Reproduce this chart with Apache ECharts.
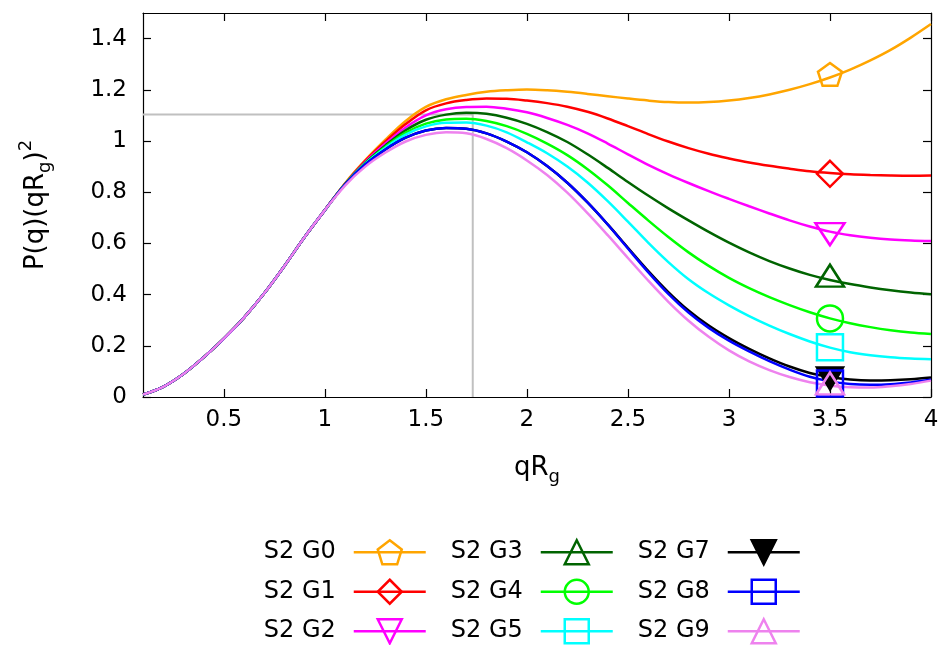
<!DOCTYPE html>
<html>
<head>
<meta charset="utf-8">
<script src="https://cdn.jsdelivr.net/npm/echarts@6/dist/echarts.min.js"></script>
<style>html,body{margin:0;padding:0;background:#fff}#c{width:947px;height:645px}</style>
</head>
<body>
<div id="c"></div>
<script>
// ---- data ----
const xValues = [0.1,0.2,0.3,0.4,0.5,0.6,0.7,0.8,0.9,1.0,1.1,1.2,1.3,1.4,1.5,1.6,1.7,1.8,1.9,2.0,
                 2.1,2.2,2.3,2.4,2.5,2.6,2.7,2.8,2.9,3.0,3.1,3.2,3.3,3.4,3.5,3.6,3.7,3.8,3.9,4.0];

const g0 = [0.01,0.04,0.09,0.155,0.228,0.31,0.405,0.512,0.625,0.73,0.835,0.925,1.005,1.078,1.133,1.163,1.18,1.192,1.198,1.201,
            1.198,1.192,1.184,1.175,1.166,1.158,1.152,1.15,1.152,1.158,1.168,1.182,1.2,1.222,1.248,1.279,1.315,1.356,1.404,1.457];
const g1 = [0.01,0.04,0.09,0.155,0.228,0.31,0.405,0.512,0.625,0.73,0.833,0.922,0.998,1.066,1.12,1.147,1.16,1.166,1.165,1.158,
            1.148,1.134,1.114,1.088,1.058,1.027,0.998,0.972,0.95,0.932,0.916,0.903,0.892,0.882,0.875,0.87,0.867,0.865,0.864,0.865];
const g2 = [0.01,0.04,0.09,0.155,0.228,0.31,0.405,0.512,0.625,0.73,0.832,0.918,0.99,1.053,1.1,1.124,1.133,1.134,1.126,1.112,
            1.09,1.063,1.03,0.99,0.948,0.907,0.87,0.836,0.804,0.774,0.745,0.717,0.69,0.666,0.646,0.632,0.622,0.615,0.611,0.609];
const g3 = [0.01,0.04,0.09,0.155,0.228,0.31,0.405,0.512,0.625,0.73,0.832,0.915,0.983,1.042,1.083,1.103,1.11,1.106,1.091,1.067,
            1.035,0.996,0.948,0.895,0.84,0.787,0.737,0.69,0.645,0.603,0.565,0.531,0.502,0.477,0.457,0.441,0.428,0.417,0.408,0.401];
const g4 = [0.01,0.04,0.09,0.155,0.228,0.31,0.405,0.512,0.625,0.73,0.831,0.913,0.978,1.033,1.068,1.084,1.087,1.078,1.058,1.028,
            0.99,0.945,0.89,0.827,0.758,0.69,0.625,0.565,0.512,0.465,0.425,0.39,0.359,0.331,0.307,0.288,0.273,0.261,0.252,0.246];
const g5 = [0.01,0.04,0.09,0.155,0.228,0.31,0.405,0.512,0.625,0.73,0.831,0.911,0.974,1.025,1.057,1.071,1.072,1.06,1.034,0.995,
            0.952,0.9,0.838,0.765,0.685,0.603,0.527,0.46,0.405,0.358,0.316,0.279,0.246,0.217,0.193,0.175,0.163,0.155,0.15,0.147];
const g7 = [0.01,0.04,0.09,0.155,0.228,0.31,0.405,0.512,0.625,0.73,0.83,0.908,0.967,1.013,1.041,1.051,1.048,1.03,0.998,0.956,
            0.902,0.837,0.76,0.674,0.583,0.493,0.41,0.338,0.279,0.23,0.188,0.151,0.119,0.094,0.078,0.068,0.064,0.065,0.069,0.076];
const g8 = [0.01,0.04,0.09,0.155,0.228,0.31,0.405,0.512,0.625,0.73,0.83,0.908,0.967,1.013,1.041,1.051,1.048,1.03,0.998,0.956,
            0.902,0.837,0.76,0.674,0.58,0.488,0.403,0.33,0.27,0.22,0.178,0.14,0.107,0.079,0.061,0.051,0.048,0.05,0.057,0.067];
const g9 = [0.01,0.04,0.09,0.155,0.228,0.31,0.405,0.512,0.625,0.73,0.826,0.9,0.955,0.998,1.024,1.034,1.03,1.008,0.972,0.924,
            0.867,0.798,0.718,0.632,0.543,0.455,0.372,0.298,0.235,0.182,0.139,0.105,0.078,0.058,0.045,0.038,0.037,0.042,0.051,0.064];

const seriesNames = ['S2 G0','S2 G1','S2 G2','S2 G3','S2 G4','S2 G5','S2 G7','S2 G8','S2 G9'];
const seriesValues = [g0,g1,g2,g3,g4,g5,g7,g8,g9];
const markerX = 3.5;
const markerY = [1.26,0.872,0.636,0.474,0.307,0.194,0.073,0.053,0.053];

const xTicks = [0.5,1,1.5,2,2.5,3,3.5,4];
const yTicks = [0,0.2,0.4,0.6,0.8,1,1.2,1.4];
const refX = 1.732;
const refY = 1.104;

// ---- styles ----
const colors = ['#ffa500','#ff0000','#ff00ff','#006400','#00ff00','#00ffff','#000000','#0000ff','#ee82ee'];
const pentagon = 'path://M0,-10L9.511,-3.09L5.878,8.09L-5.878,8.09L-9.511,-3.09Z';
const symbols = [pentagon,'diamond','triangle','triangle','circle','rect','triangle','rect','triangle'];
const rotates = [0,0,180,0,0,0,180,0,0];
const sizes = [[24,24],[26,26],[29,22],[28,22],[26,26],[26,26],[26,22],[26,26],[28,22]];
const filled = [false,false,false,false,false,false,true,false,false];
const FONT = 'DejaVu Sans';
const FS = 23;

const chart = echarts.init(document.getElementById('c'), null, {renderer: 'canvas'});

const series = [{
  type: 'line', name: 'ref', silent: true, symbol: 'none', z: 1,
  data: [[xValues[0], refY], [refX, refY], [refX, 0]],
  lineStyle: {color: '#c0c0c0', width: 2}
}];
seriesNames.forEach((n, i) => {
  const fill = filled[i] ? colors[i] : 'rgba(0,0,0,0)';
  series.push({
    type: 'line', name: n, smooth: 0.35, showSymbol: false,
    symbol: symbols[i], symbolRotate: rotates[i], symbolKeepAspect: true,
    data: xValues.map((x, k) => [x, seriesValues[i][k]]),
    lineStyle: {color: colors[i], width: 2.5},
    itemStyle: {color: fill, borderColor: colors[i], borderWidth: 2.5},
    z: 2 + i * 0.01
  });
  series.push({
    type: 'scatter', name: n + ' marker', silent: true,
    symbol: symbols[i], symbolRotate: rotates[i], symbolSize: sizes[i], symbolKeepAspect: true,
    data: [[markerX, markerY[i]]],
    itemStyle: {color: fill, borderColor: colors[i], borderWidth: 2.5, opacity: 1},
    z: 3 + i * 0.01
  });
});

function legendCol(names, right) {
  return {
    show: true, orient: 'vertical', align: 'right', right: right, top: 539, padding: 0,
    itemWidth: 72, itemHeight: 30, itemGap: 13, selectedMode: false,
    textStyle: {fontFamily: FONT, fontSize: 24, color: '#000', padding: [0, 13, 0, 0]},
    data: names.map((n) => {
      const i = seriesNames.indexOf(n);
      return {
        name: n,
        itemStyle: {color: filled[i] ? colors[i] : 'rgba(0,0,0,0)', borderColor: colors[i], borderWidth: 2.5},
        lineStyle: {color: colors[i], width: 2.5}
      };
    })
  };
}

const axisTxt = {fontFamily: FONT, fontSize: FS, color: '#000'};
const nameRich = {
  m: {fontFamily: FONT, fontSize: 26, color: '#000'},
  s: {fontFamily: FONT, fontSize: 18, color: '#000', padding: [18, 0, 0, 0]},
  p: {fontFamily: FONT, fontSize: 18, color: '#000', padding: [0, 0, 20, 0]}
};

chart.setOption({
  animation: false,
  backgroundColor: '#fff',
  grid: {left: 143, right: 16, top: 13, bottom: 248, containLabel: false, outerBoundsMode: 'none'},
  xAxis: [{
    type: 'value', min: 0.1, max: 4, position: 'bottom',
    axisLine: {show: true, onZero: false, lineStyle: {color: '#000', width: 1.2}},
    axisTick: {show: true, inside: true, length: 8, customValues: xTicks, lineStyle: {color: '#000', width: 1.2}},
    axisLabel: Object.assign({show: true, margin: 12, customValues: xTicks}, axisTxt),
    splitLine: {show: false},
    name: '{m|qR}{s|g}', nameLocation: 'middle', nameGap: 53,
    nameTextStyle: {rich: nameRich}
  }, {
    type: 'value', min: 0.1, max: 4, position: 'top',
    axisLine: {show: true, onZero: false, lineStyle: {color: '#000', width: 1.2}},
    axisTick: {show: true, inside: true, length: 8, customValues: xTicks, lineStyle: {color: '#000', width: 1.2}},
    axisLabel: {show: false}, splitLine: {show: false}
  }],
  yAxis: [{
    type: 'value', min: 0, max: 1.5, position: 'left',
    axisLine: {show: true, onZero: false, lineStyle: {color: '#000', width: 1.2}},
    axisTick: {show: true, inside: true, length: 8, customValues: yTicks, lineStyle: {color: '#000', width: 1.2}},
    axisLabel: Object.assign({show: true, margin: 16, customValues: yTicks}, axisTxt),
    splitLine: {show: false},
    name: '{m|P(q)(qR}{s|g}{m|)}{p|2}', nameLocation: 'middle', nameGap: 88,
    nameTextStyle: {rich: nameRich}
  }, {
    type: 'value', min: 0, max: 1.5, position: 'right',
    axisLine: {show: true, onZero: false, lineStyle: {color: '#000', width: 1.2}},
    axisTick: {show: true, inside: true, length: 8, customValues: yTicks, lineStyle: {color: '#000', width: 1.2}},
    axisLabel: {show: false}, splitLine: {show: false}
  }],
  legend: [
    legendCol(['S2 G0','S2 G1','S2 G2'], 520),
    legendCol(['S2 G3','S2 G4','S2 G5'], 333),
    legendCol(['S2 G7','S2 G8','S2 G9'], 146)
  ],
  series: series
});
</script>
</body>
</html>
